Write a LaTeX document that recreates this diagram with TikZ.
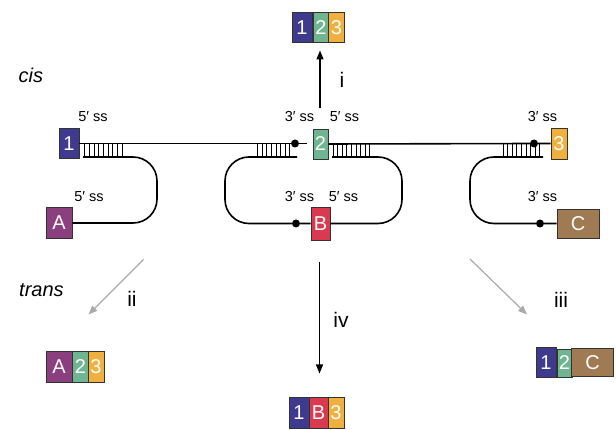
\documentclass[tikz,border=0pt]{standalone}
\usepackage{fontspec}
\setmainfont{Liberation Sans}
\usetikzlibrary{arrows.meta}
\definecolor{cOne}{HTML}{3E3A8D}
\definecolor{cTwo}{HTML}{6FB592}
\definecolor{cThree}{HTML}{F0B03F}
\definecolor{cA}{HTML}{8C3F7E}
\definecolor{cB}{HTML}{D93A50}
\definecolor{cC}{HTML}{A07A52}
\definecolor{cGray}{HTML}{AAAAAA}
\tikzset{
  seg/.style={draw=black!80, line width=0.7pt, inner sep=0pt, text=white,
    font=\fontsize{20}{20}\selectfont},
  lbl/.style={font=\fontsize{14.5}{14.5}\selectfont, inner sep=0pt},
  num/.style={font=\fontsize{21}{21}\selectfont, inner sep=0pt},
  side/.style={font=\itshape\fontsize{20}{20}\selectfont, inner sep=0pt},
  strand/.style={line width=1.6pt},
  rung/.style={line width=0.8pt},
  dotn/.style={circle, fill=black, inner sep=0pt, minimum size=8pt},
  blackarrow/.style={line width=1.4pt, -{Triangle[length=9pt,width=7pt]}},
  grayarrow/.style={line width=1.2pt, draw=cGray, -{Triangle[length=9pt,width=7pt]}, cGray},
}
\begin{document}
\begin{tikzpicture}[x=1pt,y=-1pt]
\useasboundingbox (0,0) rectangle (616,430);

% side labels
\node[side, anchor=west] (cis) at (18.5,75) {cis};
\node[side, anchor=west] (trans) at (19,290) {trans};

% ---------- top strand ----------
\node[seg, fill=cOne, minimum width=20pt, minimum height=30pt] (b1) at (69,143.5) {1};
\node[seg, fill=cTwo, minimum width=15pt, minimum height=30pt] (b2) at (320.5,144) {2};
\node[seg, fill=cThree, minimum width=16pt, minimum height=31pt] (b3) at (559,143.5) {3};
\node[dotn] (d1) at (295,143.5) {};
\node[dotn] (d2) at (534,143.5) {};
\coordinate (gapL) at (306.5,143.5);

\draw[strand] (b1.east) -- (d1) -- (gapL);
\draw[strand] (b2.east) -- (d2) -- (b3.west);

% ---------- bottom strands ----------
\node[seg, fill=cA, minimum width=26pt, minimum height=31pt] (bA) at (59,223) {A};
\node[seg, fill=cB, minimum width=19pt, minimum height=33pt] (bB) at (320.5,223.5) {B};
\node[seg, fill=cC, minimum width=42pt, minimum height=29pt] (bC) at (578,223.5) {C};
\node[dotn] (d3) at (296,223.5) {};
\node[dotn] (d4) at (540,223.5) {};

\coordinate (sA) at (83,157);
\coordinate (sBl) at (297,157);
\coordinate (sBr) at (332,157);
\coordinate (sC) at (543,157);

\draw[strand, rounded corners=24pt] (sA) -- (157,157) -- (157,223) -- (bA.east);
\draw[strand, rounded corners=24pt] (sBl) -- (225,157) -- (225,223.5) -- (d3) -- (bB.west);
\draw[strand, rounded corners=24pt] (sBr) -- (402,157) -- (402,223.5) -- (bB.east);
\draw[strand, rounded corners=24pt] (sC) -- (470,157) -- (470,223.5) -- (d4) -- (bC.west);

% rungs
\foreach \x in {84.5,89.2,...,123} \draw[rung] (\x,143.5) -- (\x,157);
\foreach \x in {257.5,262.1,...,294} \draw[rung] (\x,143.5) -- (\x,157);
\foreach \x in {333,337.6,...,374} \draw[rung] (\x,143.5) -- (\x,157);
\foreach \x in {503,507.6,...,544} \draw[rung] (\x,143.5) -- (\x,157);

% ss labels
\node[lbl] (l1) at (93,117) {5′ ss};
\node[lbl] (l2) at (89,197) {5′ ss};
\node[lbl] (l3) at (299.5,117) {3′ ss};
\node[lbl] (l4) at (344.5,117) {5′ ss};
\node[lbl] (l5) at (299.5,197) {3′ ss};
\node[lbl] (l6) at (343.5,197) {5′ ss};
\node[lbl] (l7) at (542.5,117) {3′ ss};
\node[lbl] (l8) at (542.5,197) {3′ ss};

% ---------- products ----------
% top (i)
\node[seg, fill=cOne, minimum width=20pt, minimum height=30.5pt] (p1a) at (302,27.5) {1};
\node[seg, fill=cTwo, minimum width=16pt, minimum height=30.5pt] (p1b) at (321,27.5) {2};
\node[seg, fill=cThree, minimum width=15.5pt, minimum height=30.5pt] (p1c) at (336.5,27.5) {3};
% left (ii)
\node[seg, fill=cA, minimum width=26pt, minimum height=31pt] (p2a) at (59,366.5) {A};
\node[seg, fill=cTwo, minimum width=15.5pt, minimum height=31pt] (p2b) at (80.5,366.5) {2};
\node[seg, fill=cThree, minimum width=16pt, minimum height=31pt] (p2c) at (96,366.5) {3};
% bottom (iv)
\node[seg, fill=cOne, minimum width=20pt, minimum height=30.5pt] (p4a) at (299,413) {1};
\node[seg, fill=cB, minimum width=19pt, minimum height=30.5pt] (p4b) at (318.5,413) {B};
\node[seg, fill=cThree, minimum width=16pt, minimum height=30.5pt] (p4c) at (336,413) {3};
% right (iii)
\node[seg, fill=cOne, minimum width=20pt, minimum height=30.5pt] (p3a) at (546,362.5) {1};
\node[seg, fill=cTwo, minimum width=15pt, minimum height=28pt] (p3b) at (564.5,363) {2};
\node[seg, fill=cC, minimum width=41.5pt, minimum height=28.5pt] (p3c) at (592.5,362.5) {C};

% ---------- reaction arrows ----------
\coordinate (ai0) at (320,108);
\coordinate (ai1) at (320,50.5);
\draw[blackarrow] (ai0) -- (ai1);
\node[num] (ni) at (342,80) {i};

\coordinate (aiv0) at (319.5,262.5);
\coordinate (aiv1) at (319.5,373.5);
\draw[blackarrow] (aiv0) -- (aiv1);
\node[num] (niv) at (341,320) {iv};

\coordinate (aii0) at (143.5,259.5);
\coordinate (aii1) at (88.5,314.5);
\draw[grayarrow] (aii0) -- (aii1);
\node[num] (nii) at (132,299) {ii};

\coordinate (aiii0) at (470,259);
\coordinate (aiii1) at (527,314.5);
\draw[grayarrow] (aiii0) -- (aiii1);
\node[num] (niii) at (561,299.5) {iii};
\end{tikzpicture}
\end{document}
